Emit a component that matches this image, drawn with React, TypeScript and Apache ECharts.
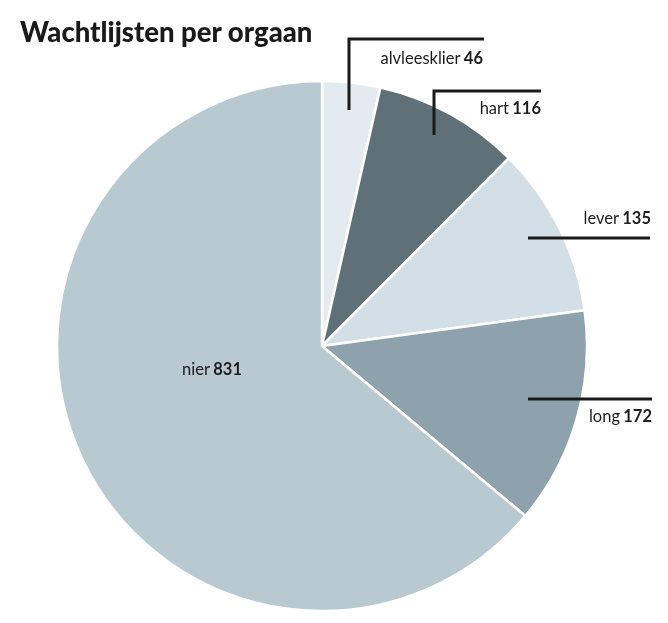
import React, { useEffect, useRef } from "react";
import * as echarts from "echarts";

const organs = ["alvleesklier", "hart", "lever", "long", "nier"];
const counts = [46, 116, 135, 172, 831];
const colors = ["#e4ebf0", "#5f7078", "#d3dfe6", "#8da2ad", "#b8c9d2"];
const title = "Wachtlijsten per orgaan";

export default function App() {
  const ref = useRef<HTMLDivElement>(null);
  useEffect(() => {
    document.body.style.margin = "0";
    const chart = echarts.init(ref.current!, null, { renderer: "svg" });
    const labelPos: Record<number, any> = {
      0: { x: 483, y: 58, align: "right" },
      1: { x: 541, y: 108, align: "right" },
      2: { x: 651, y: 218, align: "right" },
      3: { x: 652, y: 416, align: "right" },
      4: { x: 212, y: 369, align: "center" },
    };
    const lineStyle = { stroke: "#1a1a1a", lineWidth: 3 };
    chart.setOption({
      animation: false,
      title: {
        text: title,
        left: 15,
        top: 12,
        textStyle: {
          fontFamily: "Lato",
          fontWeight: 900,
          fontSize: 27.5,
          color: "#1a1a1a",
        },
      },
      graphic: [
        { type: "polyline", z: 100, shape: { points: [[349, 110], [349, 39], [484, 39]] }, style: { ...lineStyle, fill: null } },
        { type: "polyline", z: 100, shape: { points: [[434, 135], [434, 91], [541, 91]] }, style: { ...lineStyle, fill: null } },
        { type: "line", z: 100, shape: { x1: 528, y1: 238, x2: 650, y2: 238 }, style: lineStyle },
        { type: "line", z: 100, shape: { x1: 528, y1: 399, x2: 652, y2: 399 }, style: lineStyle },
      ],
      series: [
        {
          type: "pie",
          center: [322, 346],
          radius: [0, 265],
          startAngle: 90,
          clockwise: true,
          silent: true,
          itemStyle: { borderColor: "#ffffff", borderWidth: 2.5 },
          labelLine: { show: false },
          label: {
            show: true,
            position: "inside",
            overflow: "none",
            formatter: (p: any) => `{n|${p.name}} {v|${p.value}}`,
            rich: {
              n: { fontFamily: "Lato", fontSize: 16.5, color: "#1c1c1c" },
              v: { fontFamily: "Lato", fontSize: 16.5, fontWeight: "bold", color: "#1c1c1c" },
            },
          },
          labelLayout: (p: any) => {
            const l = labelPos[p.dataIndex];
            return { x: l.x, y: l.y, align: l.align, verticalAlign: "middle" };
          },
          data: organs.map((o, i) => ({
            name: o,
            value: counts[i],
            itemStyle: { color: colors[i] },
          })),
        },
      ],
    });
    return () => chart.dispose();
  }, []);
  return <div ref={ref} style={{ position: "fixed", left: 0, top: 0, width: 668, height: 623 }} />;
}
